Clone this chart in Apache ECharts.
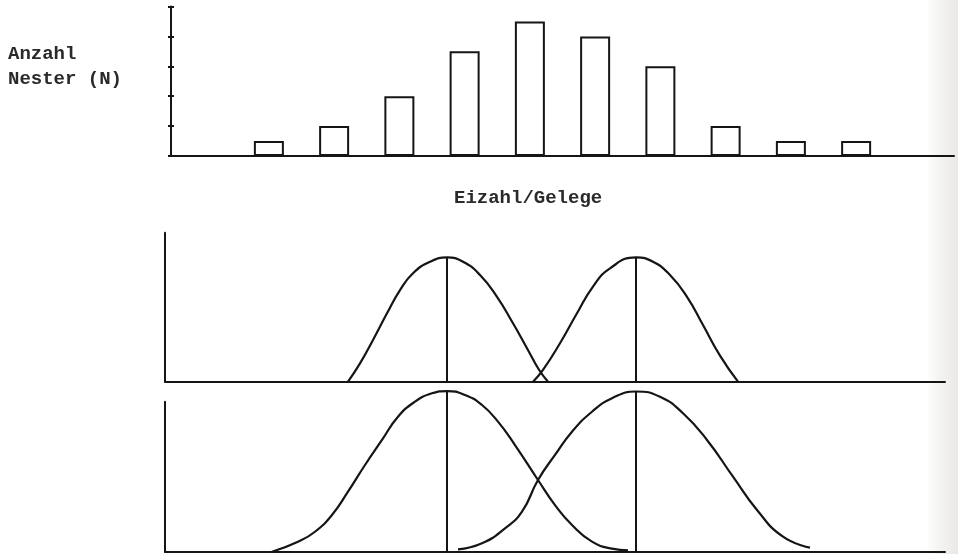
<!DOCTYPE html>
<html>
<head>
<meta charset="utf-8">
<script src="https://cdn.jsdelivr.net/npm/echarts@6/dist/echarts.min.js"></script>
<style>
  html, body { margin: 0; padding: 0; background: #ffffff; }
  #chart { width: 958px; height: 554px; }
</style>
</head>
<body>
<div id="chart"></div>
<script>
// Clutch size classes (eggs per clutch); first and last class are empty
const clutchSizes = ['1', '2', '3', '4', '5', '6', '7', '8', '9', '10', '11', '12'];
// Number of nests per clutch size
const nestCounts = ['-', 1, 2, 4, 7, 9, 8, 6, 2, 1, 1, '-'];
// Y-axis tick values of the histogram
const nestTicks = [0, 2, 4, 6, 8, 10];

// Two narrow, well separated distributions (upper schematic)
const narrowA = [[18.3, 0], [19.5, 12.3], [20.8, 28.0], [22.2, 45.9], [23.5, 61.5], [24.8, 72.8],
  [26.5, 80.5], [28.2, 83.4], [29.8, 80.5], [31.5, 71.6], [33.2, 57.0], [34.8, 39.2],
  [36.2, 22.5], [37.4, 8.0], [38.3, 0]];
const narrowB = [[36.8, 0], [37.8, 7.9], [39.5, 25.8], [41.2, 45.9], [42.8, 63.8], [44.5, 76.1],
  [47.1, 83.4], [48.8, 80.5], [50.5, 71.6], [52.2, 57.0], [53.8, 38.1], [55.5, 17.5],
  [57.3, 0]];

// Two broad, strongly overlapping distributions (lower schematic)
const broadA = [[10.7, 0], [13.3, 6.7], [15.0, 13.3], [16.7, 24.5], [18.3, 40.0], [20.0, 57.8],
  [21.7, 74.5], [23.3, 90.0], [25.0, 100.0], [26.7, 105.6], [28.2, 107.1], [30.0, 104.5],
  [31.7, 97.8], [33.3, 86.7], [35.0, 71.1], [37.3, 47.8], [39.0, 31.1], [40.7, 17.8],
  [42.7, 6.7], [44.7, 2.0], [46.3, 0.9]];
const broadB = [[29.3, 1.5], [31.7, 5.6], [34.0, 15.6], [35.7, 26.7], [37.3, 47.8], [39.0, 64.5],
  [40.7, 80.0], [42.7, 93.3], [44.7, 102.3], [47.1, 106.8], [49.5, 103.3], [51.8, 92.3],
  [54.2, 74.5], [56.8, 50.0], [59.2, 27.8], [61.8, 10.0], [64.5, 2.7]];

const INK = '#151515';
const FONT = '"Liberation Mono", "DejaVu Sans Mono", monospace';

// vertical line from the baseline up to the peak of a curve
function peakLine(curve) {
  let top = curve[0];
  curve.forEach(p => { if (p[1] > top[1]) top = p; });
  return [[top[0], 0], [top[0], top[1]]];
}

function curveSeries(data, gridIdx) {
  return {
    type: 'line', xAxisIndex: gridIdx, yAxisIndex: gridIdx + 1,
    data: data, smooth: 0.5, symbol: 'none', clip: false,
    lineStyle: { color: INK, width: 2.2 }, z: 3
  };
}
function stemSeries(data, gridIdx) {
  return {
    type: 'line', xAxisIndex: gridIdx, yAxisIndex: gridIdx + 1,
    data: peakLine(data), symbol: 'none', clip: false,
    lineStyle: { color: INK, width: 2 }, z: 3
  };
}

const plainValueX = {
  type: 'value', min: 0, max: 78,
  axisLine: { show: true, onZero: false, lineStyle: { color: INK, width: 2 } },
  axisTick: { show: false }, axisLabel: { show: false }, splitLine: { show: false }
};
const plainValueY = {
  type: 'value', min: 0, max: 100,
  axisLine: { show: true, onZero: false, lineStyle: { color: INK, width: 2 } },
  axisTick: { show: false }, axisLabel: { show: false }, splitLine: { show: false }
};

const chart = echarts.init(document.getElementById('chart'), null, { renderer: 'canvas' });

chart.setOption({
  animation: false,
  backgroundColor: '#ffffff',
  title: [
    {
      text: 'Anzahl\nNester (N)', left: 3, top: 37,
      textStyle: { fontFamily: FONT, fontSize: 19, fontWeight: 'bold', color: '#2a2a2a', lineHeight: 25 }
    },
    {
      text: 'Eizahl/Gelege', left: 449, top: 184,
      textStyle: { fontFamily: FONT, fontSize: 19, fontWeight: 'bold', color: '#2a2a2a' }
    }
  ],
  grid: [
    { left: 171, right: 4, top: 6.5, bottom: 398 },
    { left: 165, right: 13, top: 232.7, bottom: 172.3 },
    { left: 165, right: 13, top: 401.7, bottom: 2.3 }
  ],
  xAxis: [
    {
      type: 'category', gridIndex: 0, data: clutchSizes, boundaryGap: true,
      axisLine: { show: true, lineStyle: { color: INK, width: 2 } },
      axisTick: { show: false }, axisLabel: { show: false }
    },
    Object.assign({ gridIndex: 1 }, plainValueX),
    Object.assign({ gridIndex: 2 }, plainValueX)
  ],
  yAxis: [
    {
      type: 'value', gridIndex: 0, min: nestTicks[0], max: nestTicks[nestTicks.length - 1],
      interval: nestTicks[1] - nestTicks[0],
      axisLine: { show: true, lineStyle: { color: INK, width: 2 } },
      axisTick: { show: true, inside: false, length: 3, lineStyle: { color: INK, width: 2 } },
      axisLabel: { show: false }, splitLine: { show: false }
    },
    {
      type: 'value', gridIndex: 0, position: 'left', min: nestTicks[0], max: nestTicks[nestTicks.length - 1],
      interval: nestTicks[1] - nestTicks[0],
      axisLine: { show: false },
      axisTick: { show: true, inside: true, length: 3, lineStyle: { color: INK, width: 2 } },
      axisLabel: { show: false }, splitLine: { show: false }
    },
    Object.assign({ gridIndex: 1 }, plainValueY),
    Object.assign({ gridIndex: 2 }, plainValueY)
  ],
  series: [
    {
      type: 'bar', xAxisIndex: 0, yAxisIndex: 0, data: nestCounts, barWidth: 30,
      itemStyle: { color: '#ffffff', borderColor: INK, borderWidth: 2 }
    },
    curveSeries(narrowA, 1), curveSeries(narrowB, 1),
    stemSeries(narrowA, 1), stemSeries(narrowB, 1),
    curveSeries(broadA, 2), curveSeries(broadB, 2),
    stemSeries(broadA, 2), stemSeries(broadB, 2)
  ],
  graphic: [
    {
      // faint greyish page edge on the right
      type: 'rect', left: 926, top: 0, z: -1,
      shape: { width: 32, height: 554 },
      style: {
        fill: new echarts.graphic.LinearGradient(0, 0, 1, 0, [
          { offset: 0, color: 'rgba(235,233,228,0)' },
          { offset: 0.5, color: 'rgba(235,233,228,0.6)' },
          { offset: 1, color: 'rgba(232,230,225,0.9)' }
        ])
      }
    }
  ]
});
</script>
</body>
</html>
